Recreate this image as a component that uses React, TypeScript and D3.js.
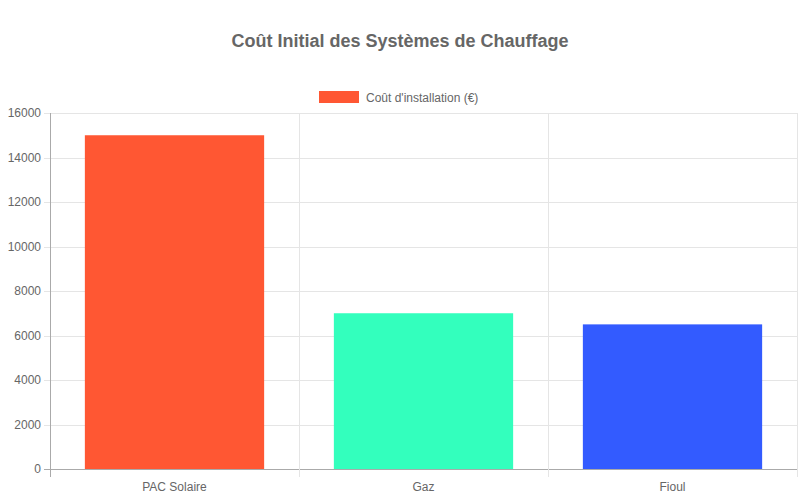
import { useEffect, useRef } from "react";
import * as d3 from "d3";

const categories = ["PAC Solaire", "Gaz", "Fioul"];
const costs = [15000, 7000, 6500];
const barColors = ["#FF5733", "#33FFBD", "#335BFF"];
const yTicks = [0, 2000, 4000, 6000, 8000, 10000, 12000, 14000, 16000];
const seriesLabel = "Coût d'installation (€)";
const title = "Coût Initial des Systèmes de Chauffage";

export default function App() {
  const svgRef = useRef<SVGSVGElement>(null);

  useEffect(() => {
    if (!svgRef.current) return;
    const svg = d3.select(svgRef.current);
    svg.selectAll("*").remove();

    const width = 800;
    const height = 500;
    const margin = { top: 113, right: 3, bottom: 31, left: 50 };
    const chartW = width - margin.left - margin.right;
    const chartH = height - margin.top - margin.bottom;
    const font = "'Liberation Sans', Arial, sans-serif";

    const x = d3.scaleBand().domain(categories).range([0, chartW]).paddingInner(0).paddingOuter(0);
    const y = d3.scaleLinear().domain([0, 16000]).range([chartH, 0]);

    // Title
    svg
      .append("text")
      .attr("x", width / 2)
      .attr("y", 47)
      .attr("text-anchor", "middle")
      .attr("fill", "#666")
      .attr("font-family", font)
      .attr("font-size", "18px")
      .attr("font-weight", "bold")
      .text(title);

    // Legend
    svg
      .append("rect")
      .attr("x", 319)
      .attr("y", 91)
      .attr("width", 40)
      .attr("height", 12)
      .attr("fill", barColors[0]);
    svg
      .append("text")
      .attr("x", 366)
      .attr("y", 101.5)
      .attr("fill", "#666")
      .attr("font-family", font)
      .attr("font-size", "12px")
      .text(seriesLabel);

    const g = svg.append("g").attr("transform", `translate(${margin.left},${margin.top})`);

    // Horizontal grid
    g.selectAll(".hgrid")
      .data(yTicks)
      .join("line")
      .attr("x1", -6)
      .attr("x2", chartW)
      .attr("y1", (d) => Math.round(y(d)) + 0.5)
      .attr("y2", (d) => Math.round(y(d)) + 0.5)
      .attr("stroke", (d) => (d === 0 ? "#aaa" : "#e5e5e5"))
      .attr("stroke-width", 1);

    // Vertical grid
    const vLines = [...categories.map((c) => x(c)!), chartW];
    g.selectAll(".vgrid")
      .data(vLines)
      .join("line")
      .attr("x1", (d) => Math.round(d) + 0.5)
      .attr("x2", (d) => Math.round(d) + 0.5)
      .attr("y1", 0)
      .attr("y2", chartH + 8)
      .attr("stroke", (d, i) => (i === 0 ? "#aaa" : "#e5e5e5"))
      .attr("stroke-width", 1);

    // Bars
    const barW = x.bandwidth() * 0.72;
    g.selectAll(".bar")
      .data(costs)
      .join("rect")
      .attr("x", (_, i) => x(categories[i])! + (x.bandwidth() - barW) / 2)
      .attr("y", (d) => y(d))
      .attr("width", barW)
      .attr("height", (d) => chartH - y(d))
      .attr("fill", (_, i) => barColors[i]);

    // Y labels
    g.selectAll(".ylab")
      .data(yTicks)
      .join("text")
      .attr("x", -9)
      .attr("y", (d) => y(d) + 4)
      .attr("text-anchor", "end")
      .attr("fill", "#666")
      .attr("font-family", font)
      .attr("font-size", "12px")
      .text((d) => d);

    // X labels
    g.selectAll(".xlab")
      .data(categories)
      .join("text")
      .attr("x", (d) => x(d)! + x.bandwidth() / 2)
      .attr("y", chartH + 22)
      .attr("text-anchor", "middle")
      .attr("fill", "#666")
      .attr("font-family", font)
      .attr("font-size", "12px")
      .text((d) => d);
  }, []);

  return (
    <svg
      ref={svgRef}
      width={800}
      height={500}
      style={{ position: "absolute", left: 0, top: 0, background: "#fff" }}
    />
  );
}
